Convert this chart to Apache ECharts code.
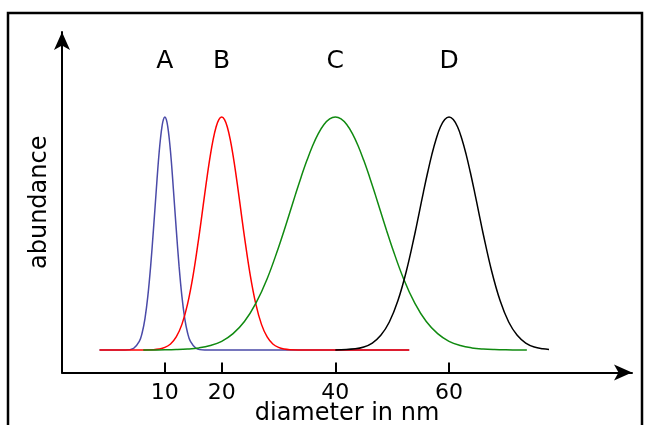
<!DOCTYPE html>
<html>
<head>
<meta charset="utf-8">
<script src="https://cdn.jsdelivr.net/npm/echarts@6/dist/echarts.min.js"></script>
<style>
  html, body { margin: 0; padding: 0; background: #fff; }
  #chart { width: 645px; height: 425px; }
</style>
</head>
<body>
<div id="chart"></div>
<script>
// Size distributions of four particle populations (diameter in nm vs. relative abundance)
const tickDiameters = [10, 20, 40, 60];
const peakNames = ['A', 'B', 'C', 'D'];
const peakDiameters = [10, 20, 40, 60];

const curveA = [
  [-1.5, 0], [3, 0], [4.5, 0.007], [5.5, 0.037], [6, 0.073], [6.5, 0.135], [7, 0.23],
  [7.5, 0.36], [8, 0.52], [8.5, 0.69], [8.75, 0.775], [9, 0.85], [9.25, 0.912],
  [9.5, 0.96], [9.75, 0.99], [10, 1], [10.25, 0.99], [10.5, 0.96], [10.75, 0.912],
  [11, 0.85], [11.25, 0.775], [11.5, 0.69], [12, 0.52], [12.5, 0.36], [13, 0.23],
  [13.5, 0.135], [14, 0.073], [14.5, 0.037], [15.5, 0.007], [17, 0], [25, 0], [35, 0], [53, 0]
];
const curveB = [
  [-1.5, 0], [5, 0], [8, 0.0015], [9, 0.004], [10, 0.011], [11, 0.026], [12, 0.056],
  [13, 0.11], [14, 0.198], [15, 0.325], [16, 0.487], [16.5, 0.576], [17, 0.667],
  [17.5, 0.755], [18, 0.835], [18.5, 0.904], [19, 0.956], [19.5, 0.989], [20, 1],
  [20.5, 0.989], [21, 0.956], [21.5, 0.904], [22, 0.835], [22.5, 0.755], [23, 0.667],
  [23.5, 0.576], [24, 0.487], [25, 0.325], [26, 0.198], [27, 0.11], [28, 0.056],
  [29, 0.026], [30, 0.011], [31, 0.004], [32, 0.0015], [35, 0], [45, 0], [53, 0]
];
const curveC = [
  [6.2, 0], [10, 0.0006], [12, 0.0016], [14, 0.004], [16, 0.009], [18, 0.019],
  [20, 0.037], [22, 0.07], [24, 0.122], [26, 0.2], [28, 0.306], [30, 0.44],
  [31, 0.514], [32, 0.591], [33, 0.669], [34, 0.744], [35, 0.814], [36, 0.877],
  [37, 0.929], [38, 0.968], [39, 0.992], [40, 1], [41, 0.992], [42, 0.968],
  [43, 0.929], [44, 0.877], [45, 0.814], [46, 0.744], [47, 0.669], [48, 0.591],
  [49, 0.514], [50, 0.44], [52, 0.306], [54, 0.2], [56, 0.122], [58, 0.07],
  [60, 0.037], [62, 0.019], [64, 0.009], [66, 0.004], [68, 0.0016], [70, 0.0006], [73.7, 0]
];
const curveD = [
  [40, 0.0005], [43.5, 0.0053], [45, 0.013], [46.5, 0.03], [48, 0.063], [49.5, 0.12],
  [51, 0.211], [52.5, 0.339], [54, 0.5], [54.75, 0.589], [55.5, 0.678], [56.25, 0.763],
  [57, 0.841], [57.75, 0.907], [58.5, 0.958], [59.25, 0.989], [60, 1], [60.75, 0.989],
  [61.5, 0.958], [62.25, 0.907], [63, 0.841], [63.75, 0.763], [64.5, 0.678],
  [65.25, 0.589], [66, 0.5], [67.5, 0.339], [69, 0.211], [70.5, 0.12], [72, 0.063],
  [73.5, 0.03], [75, 0.013], [76.5, 0.0053], [77.6, 0.0026]
];

const FONT = 'DejaVu Sans';
const LABEL_LEVEL = 1.238; // height (in abundance units) of the peak letters

function curve(data, color, width) {
  return {
    type: 'line',
    data: data,
    smooth: 0.4,
    showSymbol: false,
    symbol: 'none',
    lineStyle: { color: color, width: width },
    silent: true
  };
}

const chart = echarts.init(document.getElementById('chart'), null, { renderer: 'canvas' });
chart.setOption({
  animation: false,
  backgroundColor: '#ffffff',
  grid: { left: 62, right: 13, top: 32, bottom: 52.5, outerBoundsMode: 'none', containLabel: false },
  xAxis: {
    type: 'value',
    min: -8.1,
    max: 92.2,
    name: 'diameter in nm',
    nameLocation: 'middle',
    nameGap: 29,
    nameMoveOverlap: false,
    nameTextStyle: { fontFamily: FONT, fontSize: 24, color: '#000' },
    axisLine: {
      show: true, onZero: false,
      symbol: ['none', 'arrow'], symbolSize: [12, 18],
      lineStyle: { color: '#000', width: 2 }
    },
    axisTick: {
      show: true, inside: true, length: 10,
      customValues: tickDiameters,
      lineStyle: { color: '#000', width: 2 }
    },
    axisLabel: {
      show: true, customValues: tickDiameters, margin: 10,
      fontFamily: FONT, fontSize: 22, color: '#000'
    },
    splitLine: { show: false }
  },
  yAxis: {
    type: 'value',
    min: -0.0966,
    max: 1.365,
    name: 'abundance',
    nameLocation: 'middle',
    nameGap: 10,
    nameRotate: 90,
    nameTextStyle: { fontFamily: FONT, fontSize: 24, color: '#000' },
    axisLine: {
      show: true, onZero: false,
      symbol: ['none', 'arrow'], symbolSize: [12, 18],
      lineStyle: { color: '#000', width: 2 }
    },
    axisTick: { show: false },
    axisLabel: { show: false },
    splitLine: { show: false }
  },
  graphic: [{
    type: 'rect',
    shape: { x: 8, y: 13, width: 634, height: 440 },
    style: { fill: 'none', stroke: '#000', lineWidth: 2.5 },
    silent: true,
    z: 100
  }],
  series: [
    curve(curveA, '#4a4aa8', 1.5),
    curve(curveB, '#ff0000', 1.5),
    curve(curveC, '#108a10', 1.5),
    curve(curveD, '#000000', 1.5),
    {
      type: 'scatter',
      data: peakDiameters.map((d, i) => ({ value: [d, LABEL_LEVEL], name: peakNames[i] })),
      symbolSize: 1,
      itemStyle: { color: '#ffffff', opacity: 1 },
      label: {
        show: true,
        position: 'inside',
        formatter: p => p.name,
        fontFamily: FONT, fontSize: 25, color: '#000000',
        textBorderWidth: 0
      },
      silent: true
    }
  ]
});
</script>
</body>
</html>
